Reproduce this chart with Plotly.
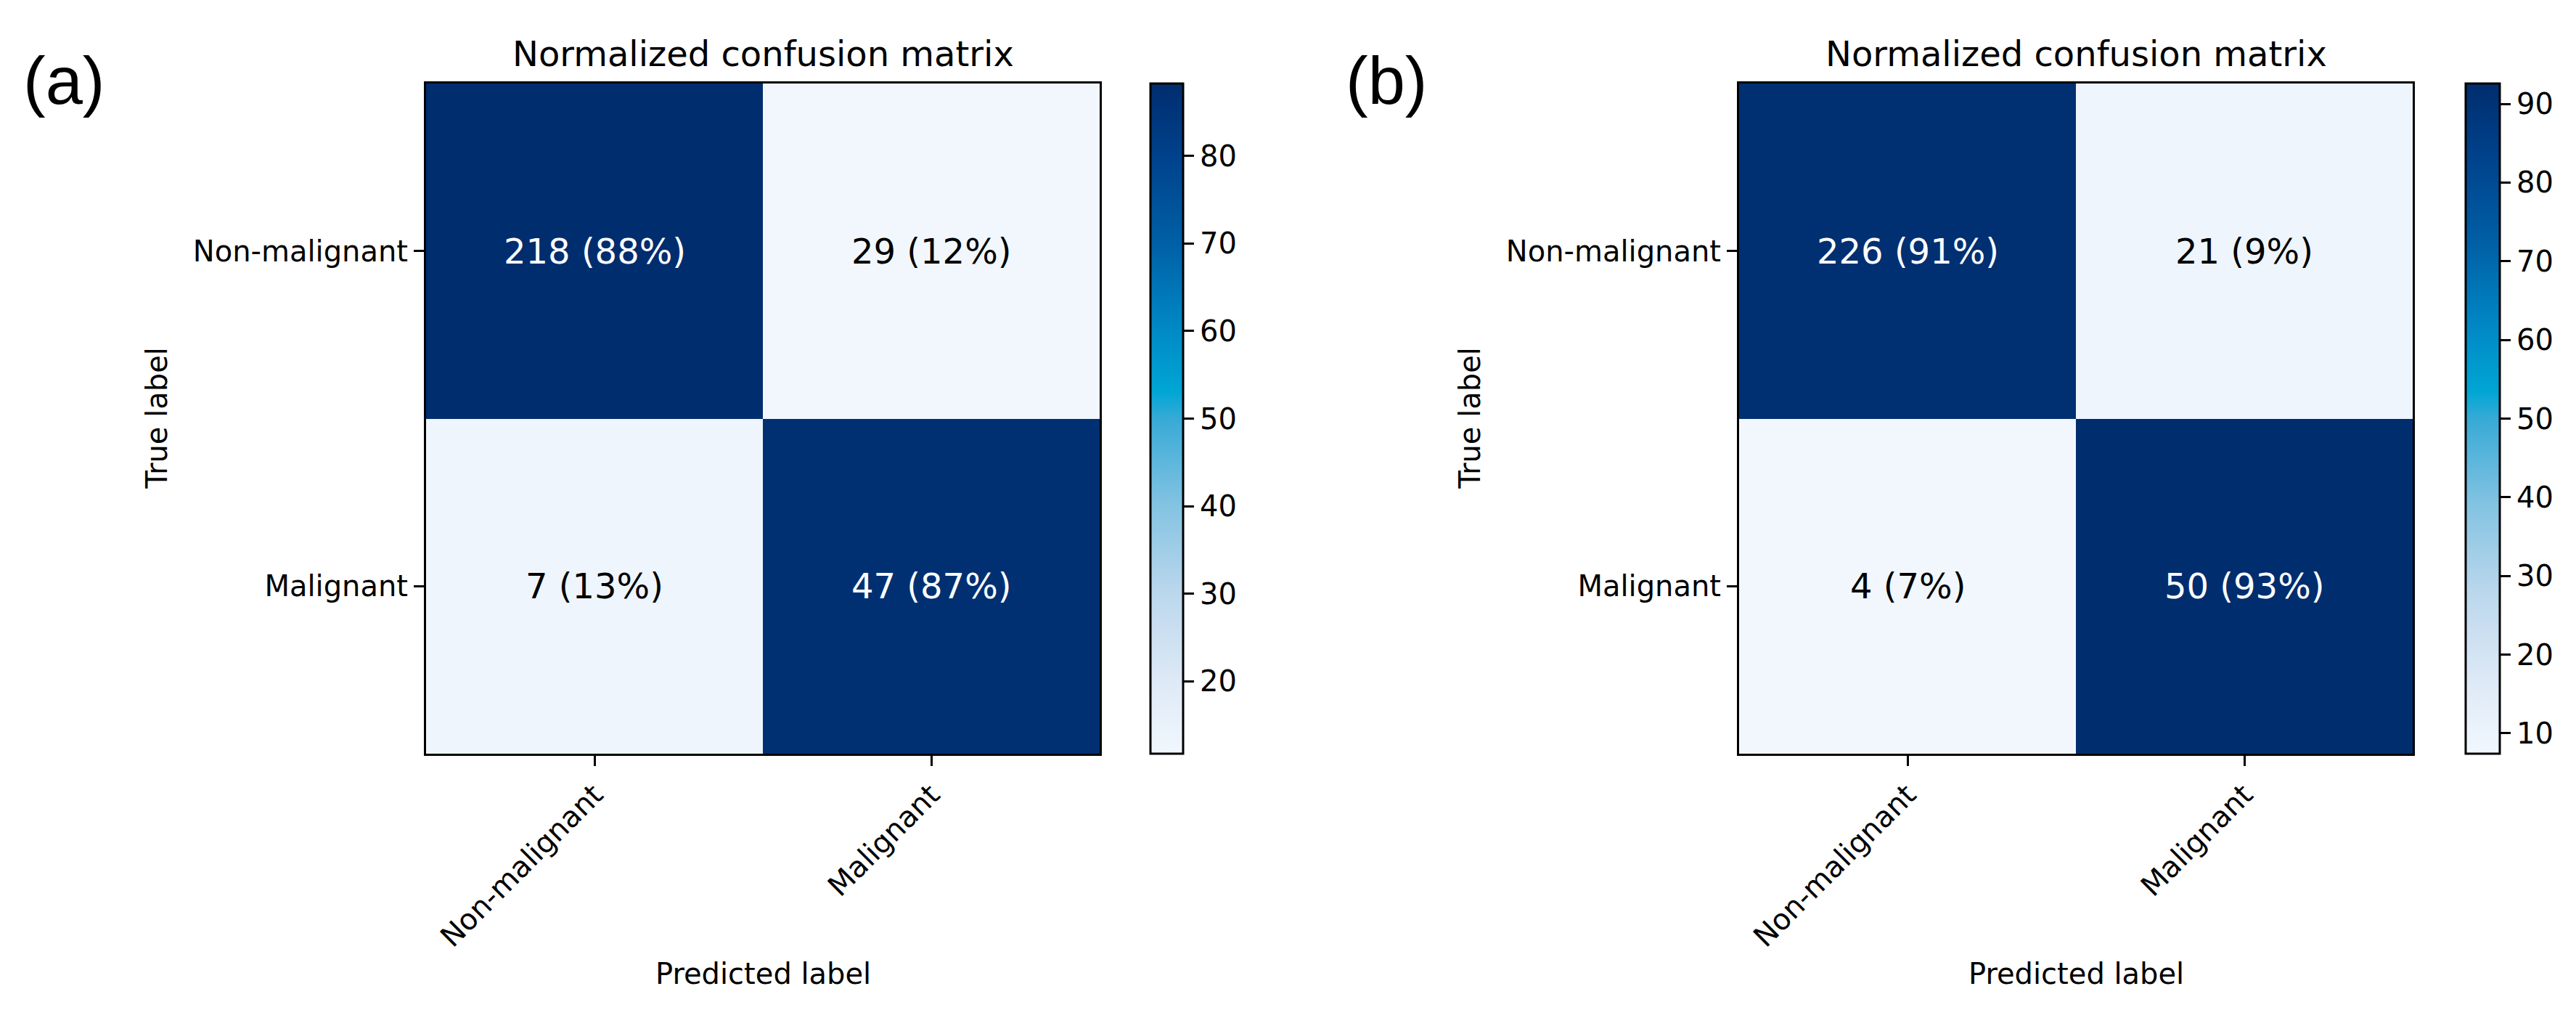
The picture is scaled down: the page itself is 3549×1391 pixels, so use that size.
import plotly.graph_objects as go

# ---------------- data ----------------
classes = ["Non-malignant", "Malignant"]
counts_a = [[218, 29], [7, 47]]
counts_b = [[226, 21], [4, 50]]
panel_labels = ["(a)", "(b)"]
plot_title = "Normalized confusion matrix"
x_title = "Predicted label"
y_title = "True label"

# ---------------- styling ----------------
W, H = 3549, 1391
FONT = "DejaVu Sans"
colorscale = [
    [0.00, "rgb(241,247,253)"],
    [0.11, "rgb(221,233,246)"],
    [0.24, "rgb(187,215,236)"],
    [0.37, "rgb(132,195,226)"],
    [0.50, "rgb(55,170,214)"],
    [0.54, "rgb(0,166,212)"],
    [0.63, "rgb(0,138,198)"],
    [0.76, "rgb(0,96,166)"],
    [0.89, "rgb(0,66,140)"],
    [1.00, "rgb(0,45,110)"],
]


def fx(px):
    return px / W


def fy(py):
    return 1 - py / H


def normalize(counts):
    out = []
    for row in counts:
        s = sum(row)
        out.append([100.0 * v / s for v in row])
    return out


# panel geometry in pixels: heatmap left, right, top, bottom; colorbar left & width
panels = [
    dict(counts=counts_a, left=579, right=1507, cb_left=1577, cb_w=45, lab_x=80),
    dict(counts=counts_b, left=2388, right=3316, cb_left=3389, cb_w=47, lab_x=1902),
]
TOP, BOT = 107, 1030

fig = go.Figure()
annotations = []
layout_axes = {}

for k, p in enumerate(panels):
    pct = normalize(p["counts"])
    flat = [v for r in pct for v in r]
    zmin, zmax = min(flat), max(flat)
    xa = "x" if k == 0 else "x2"
    ya = "y" if k == 0 else "y2"
    fig.add_trace(go.Heatmap(
        z=pct, x=[0, 1], y=[0, 1],
        xaxis=xa, yaxis=ya,
        colorscale=colorscale, zmin=zmin, zmax=zmax,
        hoverinfo="skip",
        colorbar=dict(
            x=fx(p["cb_left"]), xanchor="left", xpad=0,
            y=fy(BOT), yanchor="bottom", ypad=0,
            len=(BOT - TOP) / H, lenmode="fraction",
            thickness=p["cb_w"], thicknessmode="pixels",
            outlinewidth=3, outlinecolor="black",
            ticks="outside", ticklen=14, tickwidth=3, tickcolor="black",
            tick0=0, dtick=10,
            tickfont=dict(family=FONT, size=40, color="black"),
        ),
    ))
    thresh = zmax / 2.0
    for i in range(2):
        for j in range(2):
            annotations.append(dict(
                x=j, y=i, xref=xa, yref=ya, showarrow=False,
                text=f"{p['counts'][i][j]} ({pct[i][j]:.0f}%)",
                font=dict(family=FONT, size=48,
                          color="white" if pct[i][j] > thresh else "black"),
            ))
    axis_common = dict(
        showgrid=False, zeroline=False, showline=True, mirror=True,
        linewidth=3, linecolor="black",
        ticks="outside", ticklen=14, tickwidth=3, tickcolor="black",
        tickvals=[0, 1], ticktext=classes,
        tickfont=dict(family=FONT, size=40, color="black"),
        automargin=False, fixedrange=True,
    )
    xname = "xaxis" if k == 0 else "xaxis2"
    yname = "yaxis" if k == 0 else "yaxis2"
    layout_axes[xname] = dict(axis_common, domain=[fx(p["left"]), fx(p["right"])],
                              range=[-0.5, 1.5], anchor=ya, tickangle=-45)
    layout_axes[yname] = dict(axis_common, domain=[fy(BOT), fy(TOP)],
                              range=[1.5, -0.5], anchor=xa)
    cx = (p["left"] + p["right"]) / 2.0
    annotations.append(dict(x=fx(cx), y=fy(66), xref="paper", yref="paper",
                            text=plot_title, showarrow=False,
                            xanchor="center", yanchor="middle",
                            font=dict(family=FONT, size=48, color="black")))
    annotations.append(dict(x=fx(cx), y=fy(1333), xref="paper", yref="paper",
                            text=x_title, showarrow=False,
                            xanchor="center", yanchor="middle",
                            font=dict(family=FONT, size=40, color="black")))
    annotations.append(dict(x=fx(p["left"] - 371), y=fy((TOP + BOT) / 2.0),
                            xref="paper", yref="paper", textangle=-90,
                            text=y_title, showarrow=False,
                            xanchor="center", yanchor="middle",
                            font=dict(family=FONT, size=40, color="black")))
    annotations.append(dict(x=fx(p["lab_x"]), y=fy(103), xref="paper", yref="paper",
                            text=panel_labels[k], showarrow=False,
                            xanchor="center", yanchor="middle",
                            font=dict(family="Liberation Sans", size=92, color="black")))

fig.update_layout(
    width=W, height=H, autosize=False,
    margin=dict(l=0, r=0, t=0, b=0, pad=0),
    paper_bgcolor="white", plot_bgcolor="white",
    showlegend=False,
    annotations=annotations,
    **layout_axes,
)

fig.write_html("out.html")
